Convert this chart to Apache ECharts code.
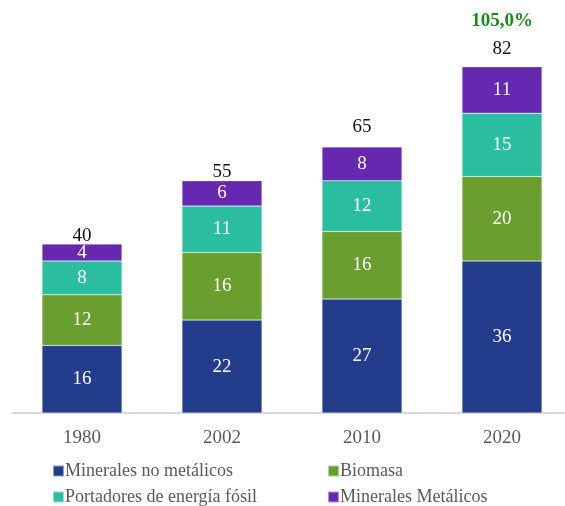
<!DOCTYPE html>
<html>
<head>
<meta charset="utf-8">
<script src="https://cdn.jsdelivr.net/npm/echarts@6/dist/echarts.min.js"></script>
<style>
html, body { margin: 0; padding: 0; background: #fff; overflow: hidden; }
#chart { width: 575px; height: 506px; }
</style>
</head>
<body>
<div id="chart"></div>
<script>
const years = ['1980', '2002', '2010', '2020'];
const noMetalicos = [16, 22, 27, 36];
const biomasa = [12, 16, 16, 20];
const fosil = [8, 11, 12, 15];
const metalicos = [4, 6, 8, 11];
const totals = [40, 55, 65, 82];
const growth = '105,0%';

const font = 'Liberation Serif';
// distance of the total label above each bar
const totalGap = [-1, 0, 11, 9];

let chart = echarts.init(document.getElementById('chart'));

const inner = {
	show: true,
	position: 'inside',
	color: '#fff',
	fontFamily: font,
	fontSize: 19
};

const seg = (name, data, color) => ({
	name: name,
	type: 'bar',
	stack: 'total',
	barWidth: 80,
	data: data,
	itemStyle: { color: color, borderColor: 'rgba(255,255,255,0.5)', borderWidth: 0.5 },
	label: inner
});

const legendBase = {
	orient: 'vertical',
	top: 457,
	height: 49,
	itemWidth: 11, itemHeight: 11, itemGap: 8,
	icon: 'rect',
	textStyle: { color: '#595959', fontFamily: font, fontSize: 18, padding: [0, 0, 0, -4] }
};

let option = {
	animation: false,
	grid: { left: 12, width: 560, top: 33, bottom: 93 },
	xAxis: {
		type: 'category',
		data: years,
		axisTick: { show: false },
		axisLine: { lineStyle: { color: '#d9d9d9', width: 2 } },
		axisLabel: { color: '#595959', fontFamily: font, fontSize: 19, margin: 16 }
	},
	yAxis: { type: 'value', min: 0, max: 90, show: false },
	legend: [
		Object.assign({}, legendBase, { left: 47, data: ['Minerales no metálicos', 'Portadores de energía fósil'] }),
		Object.assign({}, legendBase, { left: 322, data: ['Biomasa', 'Minerales Metálicos'] })
	],
	series: [
		seg('Minerales no metálicos', noMetalicos, '#243c8c'),
		seg('Biomasa', biomasa, '#6a9e2e'),
		seg('Portadores de energía fósil', fosil, '#2bbda0'),
		seg('Minerales Metálicos', metalicos, '#6628b0'),
		{
			name: 'total',
			type: 'bar',
			stack: 'total',
			barWidth: 80,
			data: totals.map((t, i) => ({
				value: 0,
				label: {
					show: true,
					position: 'top',
					distance: totalGap[i],
					formatter: i === totals.length - 1 ? '{g|' + growth + '}\n{t|' + t + '}' : '{t|' + t + '}',
					rich: {
						t: { color: '#111', fontFamily: font, fontSize: 19, lineHeight: 18 },
						g: { color: '#1a8a1a', fontFamily: font, fontSize: 19, fontWeight: 'bold', lineHeight: 38 }
					}
				}
			})),
			itemStyle: { color: 'transparent' }
		}
	]
};
chart.setOption(option);
</script>
</body>
</html>
